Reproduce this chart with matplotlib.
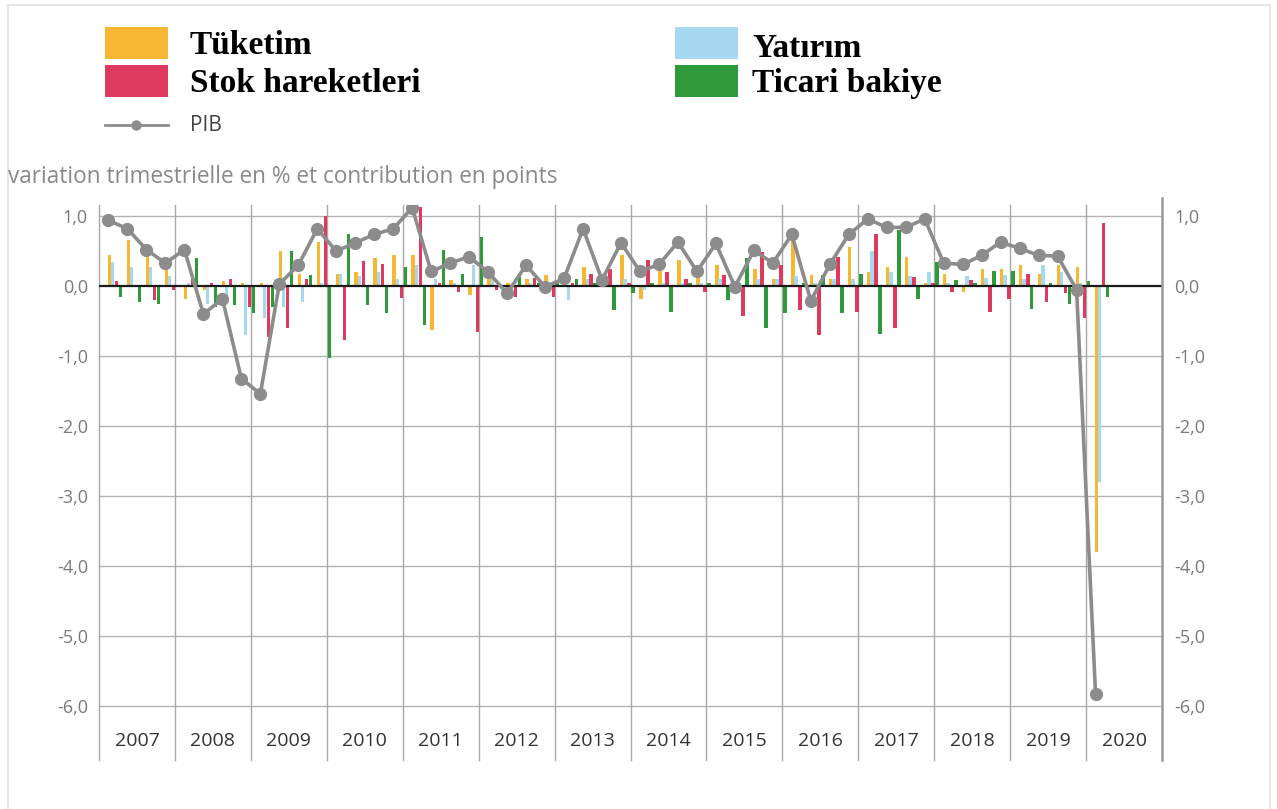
import matplotlib
matplotlib.use('Agg')
import matplotlib.pyplot as plt
import numpy as np
from matplotlib.patches import Rectangle
from matplotlib.lines import Line2D

# ---------------- data (quarterly, 2007 Q1 -> 2020 Q1) ----------------
years = [str(y) for y in range(2007, 2021)]

tuketim = [0.44, 0.66, 0.42, 0.25,  -0.18, -0.05, 0.07, 0.05,
           0.05, 0.50, 0.18, 0.63,  0.18, 0.20, 0.40, 0.44,
           0.44, -0.63, 0.09, -0.12, 0.20, 0.05, 0.10, 0.16,
           0.05, 0.28, 0.10, 0.44,  -0.19, 0.35, 0.37, 0.18,
           0.30, 0.05, 0.25, 0.10,  0.65, 0.16, 0.10, 0.56,
           0.20, 0.28, 0.42, 0.05,  0.18, -0.08, 0.24, 0.24,
           0.30, 0.18, 0.30, 0.28,  -3.80]
yatirim = [0.35, 0.28, 0.28, 0.15,  0.05, -0.25, -0.15, -0.70,
           -0.45, -0.30, -0.22, 0.05, 0.18, 0.15, 0.20, 0.10,
           0.30, 0.10, 0.05, 0.30,  0.10, -0.05, 0.05, -0.05,
           -0.20, 0.10, 0.05, 0.10,  -0.05, 0.05, 0.05, 0.05,
           0.10, 0.05, 0.10, 0.10,  0.15, 0.05, 0.10, 0.10,
           0.50, 0.20, 0.15, 0.20,  0.05, 0.15, 0.12, 0.16,
           0.10, 0.30, 0.20, 0.05,  -2.80]
stok = [0.07, 0.02, -0.20, -0.05,  0.10, 0.05, 0.10, -0.30,
        -0.72, -0.60, 0.10, 1.00,  -0.77, 0.36, 0.32, -0.17,
        1.13, 0.05, -0.08, -0.65,  -0.05, -0.15, 0.12, -0.15,
        0.05, 0.18, 0.24, 0.05,   0.37, 0.20, 0.10, -0.08,
        0.16, -0.42, 0.49, 0.30,  -0.34, -0.70, 0.42, -0.37,
        0.74, -0.60, 0.13, 0.05,  -0.08, 0.09, -0.37, -0.18,
        0.18, -0.23, -0.10, -0.46,  0.90]
ticari = [-0.15, -0.23, -0.25, 0.00,  0.40, -0.30, -0.27, -0.39,
          -0.30, 0.50, 0.16, -1.02,  0.75, -0.27, -0.39, 0.28,
          -0.55, 0.51, 0.17, 0.70,   0.00, 0.16, 0.05, 0.05,
          0.10, 0.05, -0.34, -0.10,  0.05, -0.37, 0.05, 0.05,
          -0.20, 0.40, -0.60, -0.39, 0.05, 0.16, -0.39, 0.18,
          -0.68, 0.80, -0.18, 0.35,  0.09, 0.05, 0.21, 0.21,
          -0.32, 0.05, -0.25, 0.07,  -0.15]
pib = [0.94, 0.82, 0.52, 0.33,  0.52, -0.40, -0.18, -1.32,
       -1.54, 0.03, 0.30, 0.82,  0.50, 0.62, 0.74, 0.82,
       1.12, 0.21, 0.33, 0.42,   0.20, -0.10, 0.30, -0.01,
       0.11, 0.82, 0.09, 0.62,   0.21, 0.31, 0.63, 0.21,
       0.61, -0.01, 0.51, 0.33,  0.74, -0.21, 0.31, 0.74,
       0.96, 0.84, 0.84, 0.96,   0.33, 0.31, 0.44, 0.63,
       0.54, 0.44, 0.43, -0.05,  -5.83]

series_names = ['Tüketim', 'Yatırım', 'Stok hareketleri', 'Ticari bakiye']
colors = {'Tüketim': '#f8b733', 'Yatırım': '#a6d8ef',
          'Stok hareketleri': '#de3a5e', 'Ticari bakiye': '#2f9a3a'}
pib_color = '#8c8c8c'

plt.rcParams['font.family'] = ['Open Sans', 'DejaVu Sans']

W, H = 1277, 809
fig = plt.figure(figsize=(W / 100, H / 100), dpi=100)
fig.patch.set_facecolor('white')

ax_top, ax_bot, ax_l, ax_r = 205, 706, 99, 1162
ax = fig.add_axes([ax_l / W, 1 - ax_bot / H, (ax_r - ax_l) / W, (ax_bot - ax_top) / H])

x = np.arange(len(pib))
bw = 0.18
offsets = [0.05, 0.22, 0.43, 0.64]
for name, vals, off in zip(series_names, [tuketim, yatirim, stok, ticari], offsets):
    ax.bar(x + off, vals, width=bw, color=colors[name], linewidth=0, zorder=2)

for v in range(-6, 2):
    if v != 0:
        ax.axhline(v, color='#b3b3b3', lw=1.0, zorder=1, clip_on=False)
ax.axhline(0, color='#1a1a1a', lw=1.6, zorder=3)

ax.plot(x, pib, color=pib_color, lw=2.6, marker='o', ms=8.5,
        markerfacecolor=pib_color, markeredgecolor=pib_color, zorder=4)

n_years = len(years)
ax.set_xlim(-0.5, -0.5 + 4 * n_years)
ax.set_ylim(-6, 1.16)
for s in ax.spines.values():
    s.set_visible(False)
ax.set_xticks([])
yt = list(range(-6, 2))
ylabels = [f"{v:.1f}".replace('.', ',') for v in yt]
ax.set_yticks(yt)
ax.set_yticklabels(ylabels)
ax.tick_params(axis='y', length=0, pad=8, labelcolor='#7a7a7a', labelsize=13)

ax2 = ax.twinx()
ax2.set_ylim(-6, 1.16)
ax2.set_yticks(yt)
ax2.set_yticklabels(ylabels)
ax2.tick_params(axis='y', length=0, pad=9, labelcolor='#7a7a7a', labelsize=13)
for s in ax2.spines.values():
    s.set_visible(False)

ext = 54 / (ax_bot - ax_top)
for k in range(n_years + 1):
    xb = -0.5 + 4 * k
    if k == n_years:
        ax.axvline(xb, ymin=-ext, ymax=1 + 7 / (ax_bot - ax_top), color='#9a9a9a',
                   lw=1.8, clip_on=False, zorder=5)
    else:
        ax.axvline(xb, ymin=-ext, ymax=1, color='#a8a8a8', lw=1.0, clip_on=False, zorder=1)

for k, yr in enumerate(years):
    ax.text(1.5 + 4 * k, -35 / (ax_bot - ax_top), yr, transform=ax.get_xaxis_transform(),
            ha='center', va='center', fontsize=14, color='#333333')

# ---------------- overlay: legend, subtitle, frame ----------------
ov = fig.add_axes([0, 0, 1, 1], zorder=-1)
ov.set_xlim(0, W)
ov.set_ylim(H, 0)
ov.axis('off')

ov.plot([8, 8], [5, H], color='#e2e2e2', lw=1.2)
ov.plot([8, 1270], [5, 5], color='#e2e2e2', lw=1.2)
ov.plot([1270, 1270], [5, H], color='#e2e2e2', lw=1.2)

leg = [('Tüketim', 105, 27, 190, 45),
       ('Stok hareketleri', 105, 65, 190, 83),
       ('Yatırım', 675, 27, 752, 48),
       ('Ticari bakiye', 675, 65, 752, 83)]
for name, rx, ry, tx, ty in leg:
    ov.add_patch(Rectangle((rx, ry), 63, 32, facecolor=colors[name], edgecolor='none'))
    ov.text(tx, ty, name, fontsize=24, fontweight='bold', color='black',
            family=['Liberation Serif', 'DejaVu Serif'], ha='left', va='center')

ov.add_line(Line2D([105, 168], [125, 125], color=pib_color, lw=2))
ov.plot([136], [125], marker='o', ms=6.5, color=pib_color)
ov.text(190, 125, 'PIB', fontsize=15, color='#444444', ha='left', va='center')

ov.text(8, 177, 'variation trimestrielle en % et contribution en points',
        fontsize=16.3, color='#8a8a8a', ha='left', va='center')

fig.savefig('out.png', dpi=100, facecolor='white')
